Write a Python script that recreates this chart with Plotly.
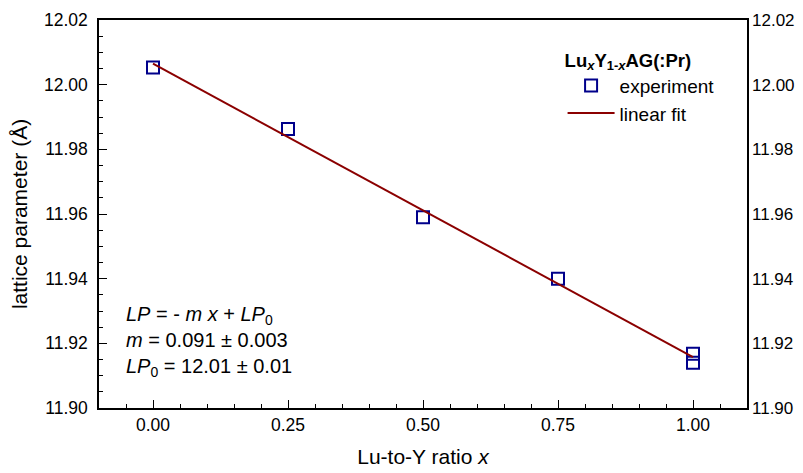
import numpy as np
import plotly.graph_objects as go

ratio_x = [0.0, 0.25, 0.50, 0.75, 1.0, 1.0]
lattice_param = [12.0053, 11.9863, 11.959, 11.940, 11.9168, 11.914]

x_ticks = [0.0, 0.25, 0.5, 0.75, 1.0]
x_ticklabels = ["0.00", "0.25", "0.50", "0.75", "1.00"]
y_ticks = [11.90, 11.92, 11.94, 11.96, 11.98, 12.00, 12.02]
y_ticklabels = ["11.90", "11.92", "11.94", "11.96", "11.98", "12.00", "12.02"]

slope, intercept = np.polyfit(ratio_x, lattice_param, 1)
fit_x = np.array([0.0, 1.0])
fit_y = intercept + slope * fit_x

FONT = "Liberation Sans, Arial, sans-serif"
navy = "#00008B"
darkred = "#8B0000"

fig = go.Figure()
fig.add_trace(go.Scatter(
    x=ratio_x, y=lattice_param, mode="markers", name="experiment",
    marker=dict(symbol="square-open", size=12, color=navy, line=dict(width=2, color=navy)),
))
fig.add_trace(go.Scatter(
    x=fit_x, y=fit_y, mode="lines", name="linear fit",
    line=dict(color=darkred, width=2),
))
# invisible trace for right y-axis labels
fig.add_trace(go.Scatter(x=[None], y=[None], yaxis="y2", showlegend=False, hoverinfo="skip"))

axis_common = dict(
    showline=True, linecolor="black", linewidth=1.5, mirror=True,
    ticks="inside", ticklen=8, tickwidth=1.2, tickcolor="black",
    showgrid=False, zeroline=False, automargin=False,
    tickfont=dict(family=FONT, size=17.5, color="black"),
)

fig.update_layout(
    width=795, height=465,
    margin=dict(l=91, r=56, t=12, b=65),
    paper_bgcolor="white", plot_bgcolor="white",
    font=dict(family=FONT, color="black"),
    xaxis=dict(
        range=[-0.1, 1.1], tickvals=x_ticks, ticktext=x_ticklabels,
        minor=dict(dtick=0.05, tick0=0, ticks="inside", ticklen=4, tickcolor="black", tickwidth=1),
        title=dict(text="Lu-to-Y ratio <i>x</i>", font=dict(family=FONT, size=21), standoff=16),
        **axis_common,
    ),
    yaxis=dict(
        range=[11.90, 12.02], tickvals=y_ticks, ticktext=y_ticklabels,
        minor=dict(dtick=0.005, tick0=11.90, ticks="inside", ticklen=4, tickcolor="black", tickwidth=1),
        title=dict(text="lattice parameter (Å)", font=dict(family=FONT, size=21), standoff=11),
        ticklabelstandoff=6,
        **axis_common,
    ),
    yaxis2=dict(
        range=[11.90, 12.02], tickvals=y_ticks, ticktext=y_ticklabels,
        overlaying="y", side="right", showline=False, ticks="",
        showgrid=False, zeroline=False, ticklabelstandoff=4, automargin=False,
        tickfont=dict(family=FONT, size=17, color="black"),
    ),
    legend=dict(
        x=0.7154, y=0.942, xanchor="left", yanchor="top",
        bgcolor="rgba(0,0,0,0)",
        font=dict(family=FONT, size=19),
        title=dict(text="<b>Lu<sub><i>x</i></sub>Y<sub>1-<i>x</i></sub>AG(:Pr)</b>",
                   font=dict(family=FONT, size=18.5), side="top"),
        tracegroupgap=0, itemwidth=47,
    ),
    showlegend=True,
)

fig.add_annotation(
    xref="paper", yref="paper", x=0.039, y=0.066, xanchor="left", yanchor="bottom",
    text="<i>LP</i> = - <i>m x</i> + <i>LP</i><sub>0</sub><br><i>m</i> = 0.091 ± 0.003<br><i>LP</i><sub>0</sub> = 12.01 ± 0.01",
    showarrow=False, align="left", font=dict(family=FONT, size=20, color="black"),
)

fig.write_html("out.html")
